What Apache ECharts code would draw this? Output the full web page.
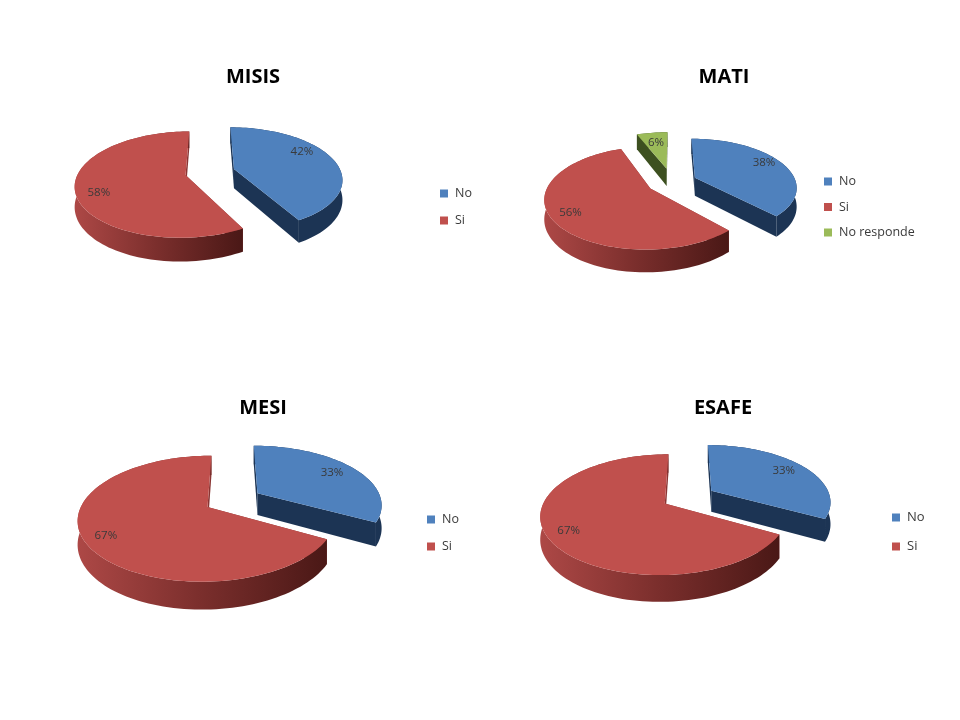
<!DOCTYPE html>
<html><head><meta charset="utf-8">
<style>html,body{margin:0;padding:0;background:#fff}#c{width:960px;height:720px}</style>
<script src="https://cdn.jsdelivr.net/npm/echarts@6/dist/echarts.min.js"></script>
</head><body><div id="c"></div>
<script>
// ---- data ----
var chartTitles = ['MISIS', 'MATI', 'MESI', 'ESAFE'];
var misisCategories = ['No', 'Si'];
var misisValues = [42, 58];
var matiCategories = ['No', 'Si', 'No responde'];
var matiValues = [38, 56, 6];
var mesiCategories = ['No', 'Si'];
var mesiValues = [33, 67];
var esafeCategories = ['No', 'Si'];
var esafeValues = [33, 67];

// ---- layout and style, separate from the data ----
var categorySets = [misisCategories, matiCategories, mesiCategories, esafeCategories];
var valueSets = [misisValues, matiValues, mesiValues, esafeValues];
var layouts = [
  {cx:210, cy:172, R:107, e:[25,25], tx:248, ty:62, lx:435, ly:182, gap:14, fs:12.5, lr:[.69,.79], ln:[-9,7]},
  {cx:672, cy:182, R:101, e:[25,25,30], tx:719, ty:62, lx:819, ly:170, gap:12.5, fs:12.5, lr:[.80,.82,.70], ln:[-2,0,0]},
  {cx:233, cy:500, R:124, e:[29,29], tx:258, ty:393, lx:422, ly:508, gap:14, fs:12.5, lr:[.78,.84], ln:[0,0]},
  {cx:688.5, cy:497, R:119, e:[27,27], tx:718, ty:393, lx:887, ly:506, gap:16, fs:13, lr:[.79,.83], ln:[0,0]}
];
var KY = 0.47, P = 0.18, DEPTH = 0.18;
var topColors = ['#4f81bd', '#c0504d', '#9bbb59'];
var wallColors = ['#1c3454', null, '#3d5020'];
var innerColors = ['#1c3454', '#8a3533', '#3d5020'];
var RED_WALL = [[0,'#ad4846'],[0.5,'#7a2e2c'],[1,'#4a1816']];
var LABEL_FONT = '11.5px "Open Sans", sans-serif';

function project(L, X, Z) {
  var s = 1 / (1 + P * Z / L.R);
  return {x: L.cx + X * s, y: L.cy - KY * Z * s, s: s};
}
function makeRender(ci, si) {
  return function (params, api) {
    var vals = valueSets[ci], L = layouts[ci];
    var total = vals.reduce(function (a, b) { return a + b; }, 0);
    var before = 0;
    for (var i = 0; i < si; i++) before += vals[i];
    var a0 = before / total * 2 * Math.PI;
    var a1 = a0 + api.value(0) / total * 2 * Math.PI;
    var mid = (a0 + a1) / 2;
    var ex = L.e[si] * Math.sin(mid), ez = L.e[si] * Math.cos(mid);
    var depth = DEPTH * L.R;
    var apex = project(L, ex, ez);
    var topPts = [], wallTop = [], wallBot = [];
    var n = Math.max(2, Math.ceil((a1 - a0) / (Math.PI / 90)));
    for (var k = 0; k <= n; k++) {
      var t = a0 + (a1 - a0) * k / n;
      var p = project(L, ex + L.R * Math.sin(t), ez + L.R * Math.cos(t));
      topPts.push([p.x, p.y]);
      wallTop.push([p.x, p.y]);
      wallBot.unshift([p.x, p.y + depth * p.s]);
    }
    var first = project(L, ex + L.R * Math.sin(a0), ez + L.R * Math.cos(a0));
    var last = project(L, ex + L.R * Math.sin(a1), ez + L.R * Math.cos(a1));
    function inner(q) {
      return [[apex.x, apex.y], [q.x, q.y], [q.x, q.y + depth * q.s], [apex.x, apex.y + depth * apex.s]];
    }
    var wallFill = wallColors[si] || new echarts.graphic.LinearGradient(0, 0, 1, 0,
      RED_WALL.map(function (c) { return {offset: c[0], color: c[1]}; }));
    var lr = L.lr[si] * L.R;
    var lp = project(L, ex + lr * Math.sin(mid), ez + lr * Math.cos(mid));
    return {type: 'group', silent: true, children: [
      {type: 'polygon', shape: {points: inner(first)}, style: {fill: innerColors[si]}},
      {type: 'polygon', shape: {points: inner(last)}, style: {fill: innerColors[si]}},
      {type: 'polygon', shape: {points: wallTop.concat(wallBot)}, style: {fill: wallFill}},
      {type: 'polygon', shape: {points: [[apex.x, apex.y]].concat(topPts)}, style: {fill: topColors[si]}},
      {type: 'text', style: {x: lp.x, y: lp.y + L.ln[si], text: api.value(0) + '%', align: 'center', verticalAlign: 'middle', font: LABEL_FONT, fill: '#3a3a3a'}}
    ]};
  };
}

var series = [], titles = [], legends = [];
categorySets.forEach(function (cats, ci) {
  var L = layouts[ci];
  titles.push({text: chartTitles[ci], left: L.tx, top: L.ty, textAlign: 'center',
    textStyle: {fontFamily: '"Open Sans", sans-serif', fontWeight: 'bold', fontSize: 20, color: '#000'}});
  legends.push({data: cats, left: L.lx, top: L.ly, orient: 'vertical', itemWidth: 8, itemHeight: 8, icon: 'rect',
    itemGap: L.gap, selectedMode: false,
    textStyle: {fontFamily: '"Open Sans", sans-serif', fontSize: L.fs, color: '#3a3a3a', padding: [0, 0, 0, 2]}});
  cats.forEach(function (name, si) {
    series.push({type: 'custom', name: name, coordinateSystem: 'none', clip: false,
      itemStyle: {color: topColors[si]},
      data: [valueSets[ci][si]], renderItem: makeRender(ci, si)});
  });
});
var chart = echarts.init(document.getElementById('c'), null, {renderer: 'canvas'});
chart.setOption({backgroundColor: '#fff', animation: false, title: titles, legend: legends, series: series});
</script></body></html>
